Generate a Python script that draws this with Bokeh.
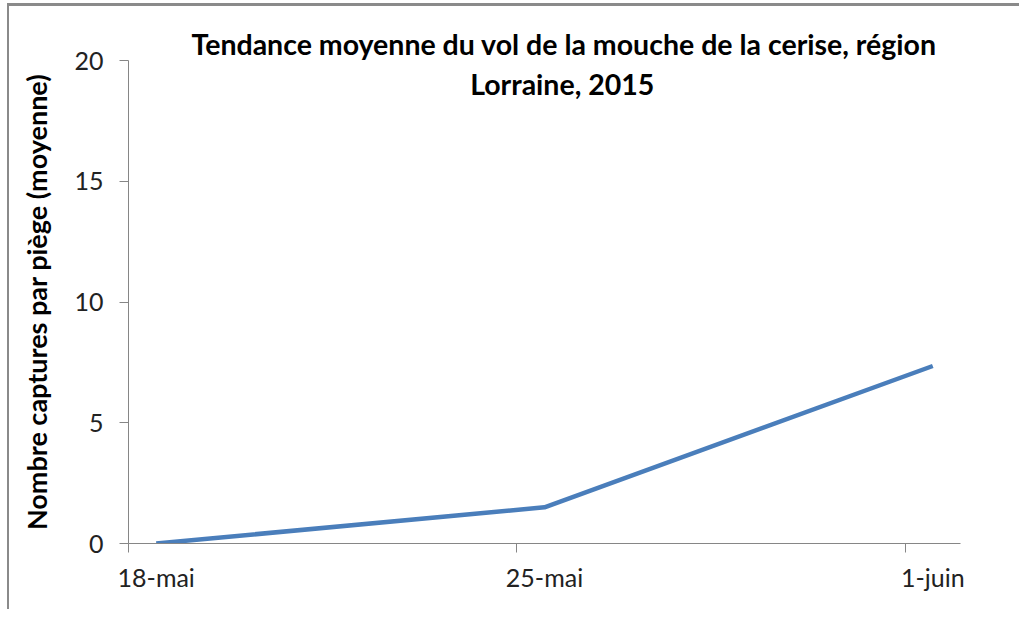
from bokeh.plotting import figure
from bokeh.models import Range1d, FixedTicker, LinearAxis, Label, Title
from bokeh.embed import file_html
from bokeh.resources import INLINE

# Data (days since 18 May 2015)
dates = ["18-mai", "25-mai", "1-juin"]
day_offsets = [0, 7, 14]
captures = [0.0, 1.5, 7.35]
y_ticks = [0, 5, 10, 15, 20]

title_lines = ["Tendance moyenne du vol de la mouche de la cerise, région", "Lorraine, 2015"]
y_label = "Nombre captures par piège (moyenne)"

FONT = "Lato"
AXIS_COLOR = "#868686"
TEXT_COLOR = "#222222"

p = figure(width=1012, height=606, output_backend="svg", toolbar_location=None,
           x_range=Range1d(-0.5, 14.5), y_range=Range1d(0, 20),
           min_border_left=119, min_border_right=61, min_border_top=54, min_border_bottom=69,
           x_axis_location=None)
p.styles = {"border-top": "3px solid #8a8a8a", "border-left": "2px solid #8a8a8a",
            "margin-left": "7px", "margin-top": "3px"}
p.outline_line_color = None
p.xgrid.visible = False
p.ygrid.visible = False

# y axis
ya = p.yaxis[0]
ya.ticker = FixedTicker(ticks=y_ticks)
ya.axis_line_color = AXIS_COLOR
ya.major_tick_line_color = AXIS_COLOR
ya.major_tick_out = 9
ya.major_tick_in = 0
ya.minor_tick_line_color = None
ya.major_label_text_font = FONT
ya.major_label_text_font_size = "25px"
ya.major_label_text_color = TEXT_COLOR
ya.major_label_standoff = 16
ya.axis_label = y_label
ya.axis_label_text_font = FONT
ya.axis_label_text_font_style = "bold"
ya.axis_label_text_font_size = "27px"
ya.axis_label_text_color = "#000000"
ya.axis_label_standoff = 18

# x axis: tick marks at slot boundaries
xa1 = LinearAxis(ticker=FixedTicker(ticks=[d - 0.5 for d in day_offsets]))
xa1.axis_line_color = AXIS_COLOR
xa1.major_tick_line_color = AXIS_COLOR
xa1.major_tick_out = 9
xa1.major_tick_in = 0
xa1.minor_tick_line_color = None
xa1.major_label_overrides = {d - 0.5: "" for d in day_offsets}
xa1.major_label_text_font_size = "1px"
xa1.major_label_standoff = 0
p.add_layout(xa1, "below")

# x axis: labels centred on the days
xa2 = LinearAxis(ticker=FixedTicker(ticks=day_offsets))
xa2.axis_line_color = None
xa2.major_tick_line_color = None
xa2.major_tick_out = 0
xa2.major_tick_in = 0
xa2.minor_tick_line_color = None
xa2.major_label_overrides = {d: lab for d, lab in zip(day_offsets, dates)}
xa2.major_label_text_font = FONT
xa2.major_label_text_font_size = "25px"
xa2.major_label_text_color = TEXT_COLOR
xa2.major_label_standoff = 9
p.add_layout(xa2, "below")

p.line(day_offsets, captures, line_color="#4a7ebb", line_width=4.5)

# title: first line in the top panel, second line inside the frame
p.add_layout(Title(text=title_lines[0], align="left", offset=63, vertical_align="bottom",
                   standoff=0, text_font=FONT, text_font_style="bold",
                   text_font_size="28.5px", text_color="#000000"), "above")
p.add_layout(Label(x=7.32, y=19.02, text=title_lines[1], text_align="center",
                   text_baseline="alphabetic", text_font=FONT, text_font_style="bold",
                   text_font_size="28.5px", text_color="#000000"))

open("out.html", "w").write(file_html(p, INLINE))
